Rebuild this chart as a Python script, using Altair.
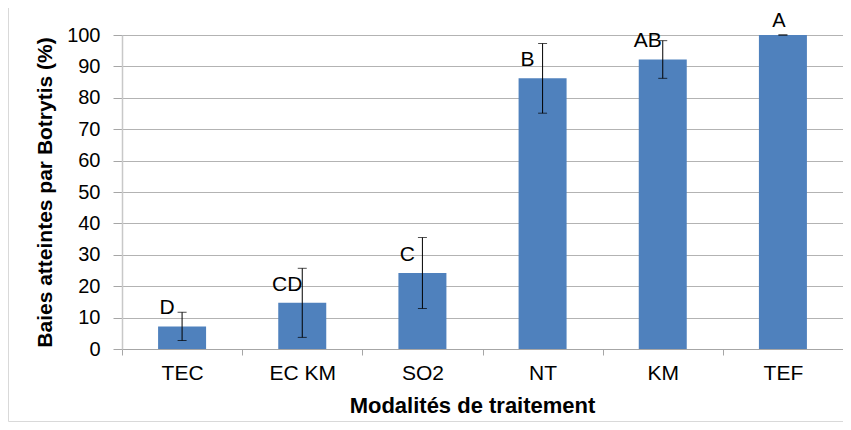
import altair as alt
import pandas as pd

categories = ["TEC", "EC KM", "SO2", "NT", "KM", "TEF"]
values = [7.2, 14.7, 24.2, 86.2, 92.2, 100.0]
errors = [4.5, 11.0, 11.3, 11.1, 6.0, 0.0]
letters = ["D", "CD", "C", "B", "AB", "A"]
y_ticks = [0, 10, 20, 30, 40, 50, 60, 70, 80, 90, 100]

df = pd.DataFrame({
    "cat": categories,
    "val": values,
    "err": errors,
    "letter": letters,
})
df["lo"] = df["val"] - df["err"]
df["hi"] = df["val"] + df["err"]

FONT = "Liberation Sans"

xaxis = alt.Axis(
    title="Modalités de traitement", labelAngle=0, tickBand="extent",
    tickSize=6, labelPadding=7, labelFontSize=21, labelColor="black",
    titleFontSize=22, titleFontWeight="bold", titleColor="black",
    titleX=350, titleY=56, titleBaseline="middle", titleAlign="center",
    domainColor="#a6a6a6", tickColor="#a6a6a6",
)
yaxis = alt.Axis(
    title="Baies atteintes par Botrytis (%)", values=y_ticks, labelOverlap=False,
    grid=True, gridColor="#b3b3b3", tickSize=9, tickColor="#a6a6a6",
    domainColor="#c8c8c8", domainWidth=1.5, labelFontSize=20, labelPadding=13,
    labelColor="black",
    titleFontSize=21, titleFontWeight="bold", titleColor="black",
    titleX=-77, titleY=157, titleAngle=-90, titleBaseline="middle", titleAlign="center",
)
yscale = alt.Scale(domain=[0, 100], nice=False)

def X():
    return alt.X("cat:N", sort=categories,
                 scale=alt.Scale(paddingInner=0, paddingOuter=0), axis=xaxis)

def Y(field):
    return alt.Y(field, scale=yscale, axis=yaxis)

base = alt.Chart(df)

border = base.mark_rect(fillOpacity=0, stroke="#d9d9d9", strokeWidth=1).encode(
    x=alt.value(-113.5), x2=alt.value(760), y=alt.value(-27.5), y2=alt.value(386.5)
).transform_filter(alt.datum.letter == "A")

bars = base.mark_bar(size=48, color="#4f81bd").encode(x=X(), y=Y("val:Q"))

rules = base.mark_rule(color="black", strokeWidth=1).encode(
    x=X(), y=Y("lo:Q"), y2="hi:Q"
)
caps_hi = base.mark_tick(color="black", size=9, thickness=1).encode(x=X(), y=Y("hi:Q"))
caps_lo = base.mark_tick(color="black", size=9, thickness=1).encode(x=X(), y=Y("lo:Q"))

labels = base.mark_text(fontSize=21, dx=-15, dy=-12, baseline="alphabetic",
                        color="black", font=FONT).encode(
    x=X(), y=Y("val:Q"), text="letter:N"
).transform_filter(alt.datum.letter != "A")
label_a = base.mark_text(fontSize=20, dx=-4, dy=-8, baseline="alphabetic",
                         color="black", font=FONT).encode(
    x=X(), y=Y("val:Q"), text="letter:N"
).transform_filter(alt.datum.letter == "A")

chart = alt.layer(border, bars, rules, caps_hi, caps_lo, labels, label_a).properties(
    width=721, height=314,
    autosize=alt.AutoSizeParams(type="none"),
    padding={"left": 114, "top": 27, "right": 0, "bottom": 73},
).configure(font=FONT).configure_view(stroke="#8db3e2", strokeWidth=1)

chart.save("out.html", embed_options={"renderer": "svg", "actions": False})
